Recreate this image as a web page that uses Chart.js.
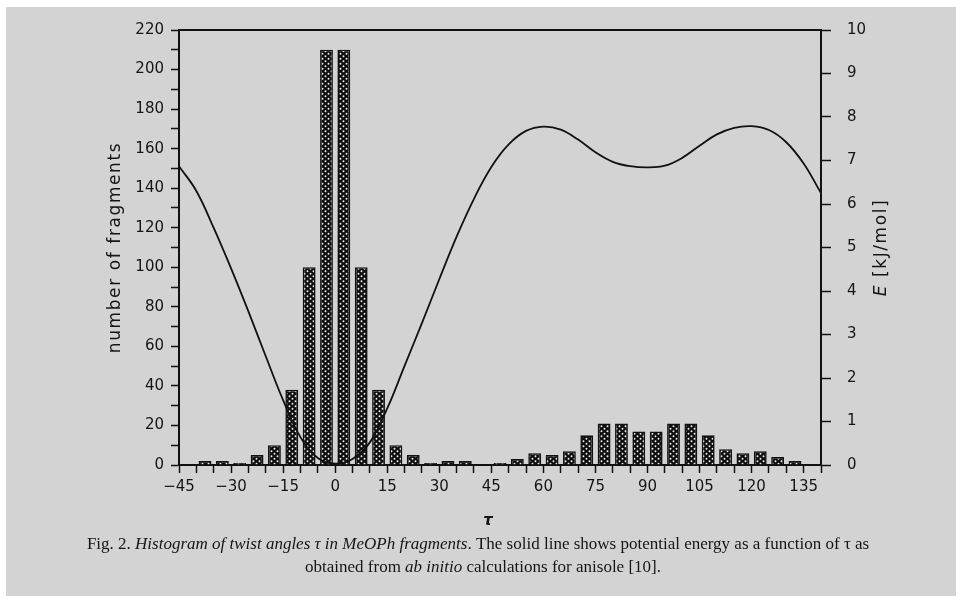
<!DOCTYPE html>
<html>
<head>
<meta charset="utf-8">
<title>Histogram of twist angles</title>
<script src="https://cdn.jsdelivr.net/npm/chart.js@4.4.1/dist/chart.umd.min.js"></script>
<style>
    html, body { margin: 0; padding: 0; background: #ffffff; }
    #grafik { position: absolute; left: 0; top: 0; }
</style>
</head>
<body>
<canvas id="grafik" width="962" height="601"></canvas>
<script>
// Data histogram: pusat bin sudut puntir (lebar bin 5 derajat) dan jumlah fragmen
const sudutBin = [-42.5, -37.5, -32.5, -27.5, -22.5, -17.5, -12.5, -7.5, -2.5, 2.5,
    7.5, 12.5, 17.5, 22.5, 27.5, 32.5, 37.5, 42.5, 47.5, 52.5,
    57.5, 62.5, 67.5, 72.5, 77.5, 82.5, 87.5, 92.5, 97.5, 102.5,
    107.5, 112.5, 117.5, 122.5, 127.5, 132.5, 137.5];
const jumlahFragmen = [0, 2, 2, 1, 5, 10, 38, 100, 210, 210,
    100, 38, 10, 5, 1, 2, 2, 0, 1, 3,
    6, 5, 7, 15, 21, 21, 17, 17, 21, 21,
    15, 8, 6, 7, 4, 2, 0];

// Data kurva energi potensial (kJ/mol) terhadap sudut tau
const sudutEnergi = [-45, -40, -35, -30, -25, -20, -15, -10, -5, 0,
    5, 10, 15, 20, 25, 30, 35, 40, 45, 50,
    55, 60, 65, 70, 75, 80, 85, 90, 95, 100,
    105, 110, 115, 120, 125, 130, 135, 140];
const energi = [6.87, 6.30, 5.45, 4.52, 3.53, 2.50, 1.49, 0.64, 0.16, 0.03,
    0.14, 0.52, 1.30, 2.28, 3.26, 4.27, 5.25, 6.12, 6.85, 7.37,
    7.68, 7.78, 7.71, 7.48, 7.19, 6.97, 6.87, 6.84, 6.88, 7.06,
    7.34, 7.60, 7.75, 7.79, 7.70, 7.42, 6.93, 6.25];

// Label sumbu
const labelSumbuX = [-45, -30, -15, 0, 15, 30, 45, 60, 75, 90, 105, 120, 135];
const labelSumbuKiri = [0, 20, 40, 60, 80, 100, 120, 140, 160, 180, 200, 220];
const labelSumbuKanan = [0, 1, 2, 3, 4, 5, 6, 7, 8, 9, 10];
const judulKiri = 'number of fragments';
const judulX = 'τ';

const warnaGaris = '#111111';
const warnaTeks = '#151515';

// Fungsi untuk membuat pola titik-titik putih di atas hitam (isi batang)
function buatPolaTitik(ctx) {
    const kanvas = document.createElement('canvas');
    kanvas.width = 6;
    kanvas.height = 5;
    const c = kanvas.getContext('2d');
    c.fillStyle = '#0e0e0e';
    c.fillRect(0, 0, 6, 5);
    c.fillStyle = '#f0f0f0';
    c.beginPath();
    c.arc(1.5, 1.25, 0.95, 0, Math.PI * 2);
    c.arc(4.5, 3.75, 0.95, 0, Math.PI * 2);
    c.fill();
    return ctx.createPattern(kanvas, 'repeat');
}

// Fungsi untuk menulis teks campuran (tegak + miring) dengan posisi tengah
function tulisCampuran(ctx, potongan, cx, y, ukuran, keluarga) {
    let total = 0;
    potongan.forEach(p => {
        ctx.font = (p.miring ? 'italic ' : '') + ukuran + 'px ' + keluarga;
        total += ctx.measureText(p.teks).width;
    });
    let x = cx - total / 2;
    ctx.textAlign = 'left';
    potongan.forEach(p => {
        ctx.font = (p.miring ? 'italic ' : '') + ukuran + 'px ' + keluarga;
        ctx.fillText(p.teks, x, y);
        x += ctx.measureText(p.teks).width;
    });
}

// Plugin: latar abu-abu, garis atas bingkai, judul sumbu dan keterangan gambar
const pluginLatar = {
    id: 'pluginLatar',
    beforeDraw(chart) {
        const ctx = chart.ctx;
        ctx.save();
        ctx.fillStyle = '#ffffff';
        ctx.fillRect(0, 0, chart.width, chart.height);
        ctx.fillStyle = '#d3d3d3';
        ctx.fillRect(6, 7, 950, 589);
        ctx.restore();
    },
    afterDraw(chart) {
        const ctx = chart.ctx;
        const area = chart.chartArea;
        const tengahY = (area.top + area.bottom) / 2;
        ctx.save();

        // garis atas bingkai
        ctx.strokeStyle = warnaGaris;
        ctx.lineWidth = 2;
        ctx.beginPath();
        ctx.moveTo(area.left, area.top);
        ctx.lineTo(area.right, area.top);
        ctx.stroke();

        ctx.fillStyle = warnaTeks;
        ctx.textBaseline = 'middle';

        // judul sumbu kiri
        ctx.save();
        ctx.letterSpacing = '1.6px';
        ctx.font = '17px "DejaVu Sans"';
        ctx.textAlign = 'center';
        ctx.translate(116, tengahY);
        ctx.rotate(-Math.PI / 2);
        ctx.fillText(judulKiri, 0, 0);
        ctx.restore();

        // judul sumbu kanan
        ctx.save();
        ctx.letterSpacing = '1.6px';
        ctx.translate(882, tengahY);
        ctx.rotate(-Math.PI / 2);
        tulisCampuran(ctx, [
            { teks: 'E', miring: true },
            { teks: ' [kJ/mol]', miring: false }
        ], 0, 0, 17, '"DejaVu Sans"');
        ctx.restore();

        // judul sumbu x
        ctx.font = 'italic bold 15px "DejaVu Sans"';
        ctx.textAlign = 'center';
        ctx.fillText(judulX, 488, 521);

        // keterangan gambar
        tulisCampuran(ctx, [
            { teks: 'Fig. 2. ', miring: false },
            { teks: 'Histogram of twist angles τ in MeOPh fragments', miring: true },
            { teks: '. The solid line shows potential energy as a function of τ as', miring: false }
        ], 478, 545, 17, '"Liberation Serif"');
        tulisCampuran(ctx, [
            { teks: 'obtained from ', miring: false },
            { teks: 'ab initio', miring: true },
            { teks: ' calculations for anisole [10].', miring: false }
        ], 483, 568, 17, '"Liberation Serif"');

        ctx.restore();
    }
};

const kanvas = document.getElementById('grafik');
const ctx = kanvas.getContext('2d');

const fontTick = { family: '"DejaVu Sans"', size: 15 };

const grafik = new Chart(ctx, {
    type: 'bar',
    data: {
        datasets: [{
            type: 'line',
            label: 'E',
            data: sudutEnergi.map((s, i) => ({ x: s, y: energi[i] })),
            yAxisID: 'y2',
            borderColor: warnaGaris,
            borderWidth: 1.8,
            pointRadius: 0,
            tension: 0.4,
            order: 0
        }, {
            type: 'bar',
            label: 'number of fragments',
            data: sudutBin.map((s, i) => ({ x: s, y: jumlahFragmen[i] })),
            yAxisID: 'y',
            backgroundColor: buatPolaTitik(ctx),
            borderColor: warnaGaris,
            borderWidth: 1.6,
            barPercentage: 0.74,
            categoryPercentage: 1.0,
            order: 1
        }]
    },
    options: {
        responsive: false,
        animation: false,
        events: [],
        layout: { padding: { top: 30, left: 0, right: 0, bottom: 0 } },
        plugins: {
            legend: { display: false },
            tooltip: { enabled: false }
        },
        scales: {
            x: {
                type: 'linear',
                offset: false,
                min: -45,
                max: 140,
                grid: {
                    offset: false,
                    drawOnChartArea: false,
                    drawTicks: true,
                    tickLength: 8,
                    tickColor: warnaGaris,
                    tickWidth: 1.5
                },
                border: { display: true, color: warnaGaris, width: 2 },
                ticks: {
                    stepSize: 5,
                    autoSkip: false,
                    maxRotation: 0,
                    padding: 5,
                    color: warnaTeks,
                    font: fontTick,
                    callback: (v) => labelSumbuX.includes(v) ? String(v).replace('-', '\u2212') : ''
                },
                afterFit: (skala) => { skala.height = 136; }
            },
            y: {
                position: 'left',
                min: 0,
                max: 220,
                grid: {
                    drawOnChartArea: false,
                    drawTicks: true,
                    tickLength: 8,
                    tickColor: warnaGaris,
                    tickWidth: 1.5
                },
                border: { display: true, color: warnaGaris, width: 2 },
                ticks: {
                    stepSize: 10,
                    autoSkip: false,
                    padding: 7,
                    color: warnaTeks,
                    font: fontTick,
                    callback: (v) => labelSumbuKiri.includes(v) ? String(v) : ''
                },
                afterFit: (skala) => { skala.width = 179; }
            },
            y2: {
                position: 'right',
                min: 0,
                max: 10,
                grid: {
                    drawOnChartArea: false,
                    drawTicks: true,
                    tickLength: 10,
                    tickColor: warnaGaris,
                    tickWidth: 1.5
                },
                border: { display: true, color: warnaGaris, width: 2 },
                ticks: {
                    stepSize: 1,
                    autoSkip: false,
                    padding: 16,
                    color: warnaTeks,
                    font: fontTick,
                    callback: (v) => labelSumbuKanan.includes(v) ? String(v) : ''
                },
                afterFit: (skala) => { skala.width = 141; }
            }
        }
    },
    plugins: [pluginLatar]
});
</script>
</body>
</html>
